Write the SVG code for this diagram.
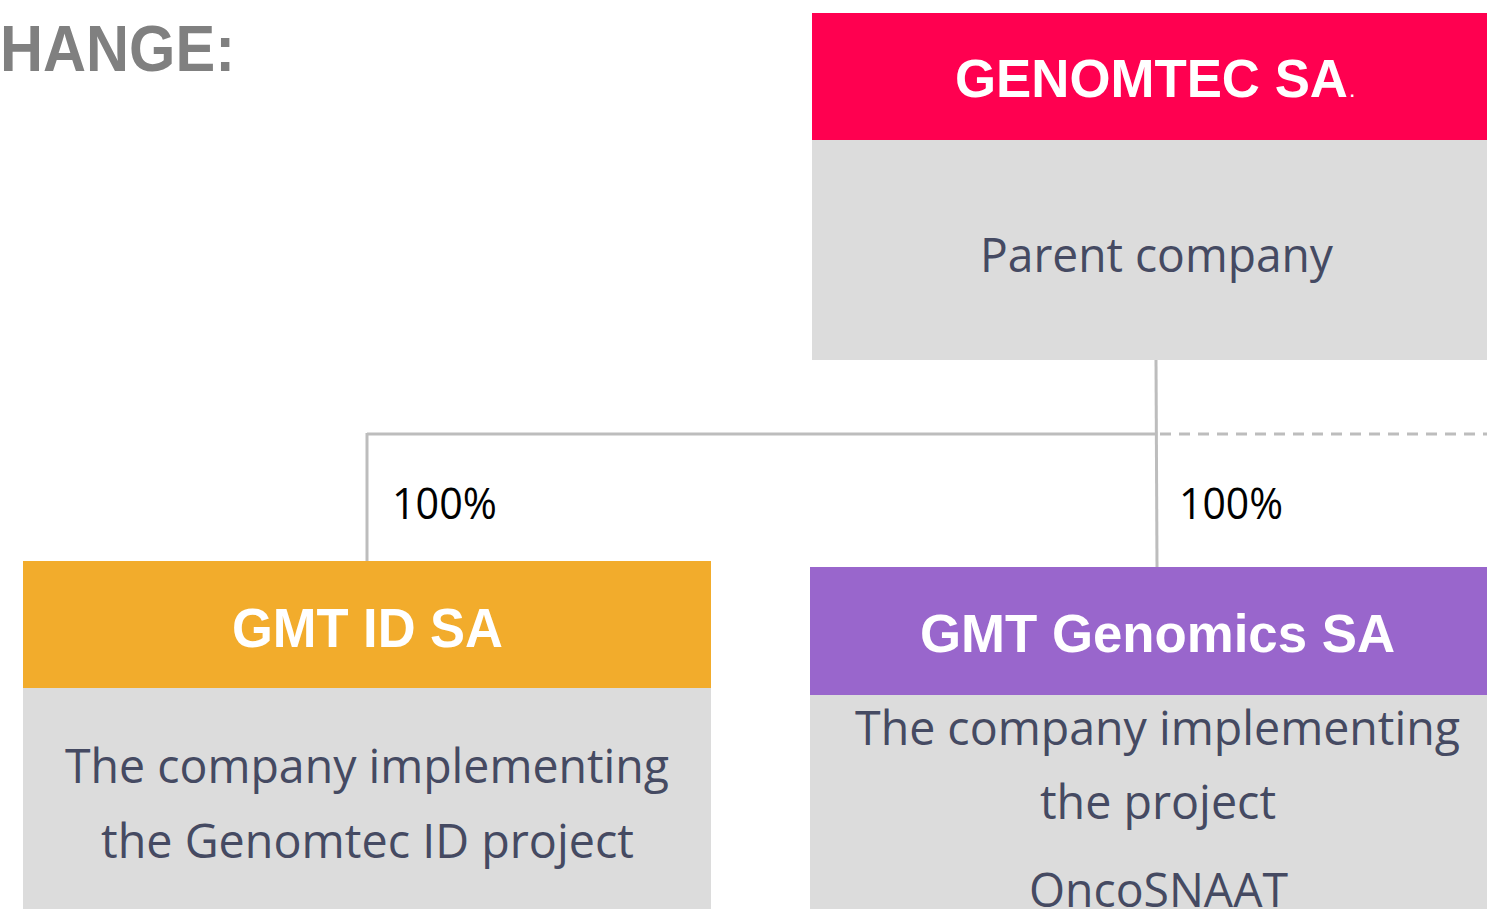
<svg xmlns="http://www.w3.org/2000/svg" width="1487" height="909" viewBox="0 0 1487 909">
  <style>
    .head { font-family: "Liberation Sans", Arial, sans-serif; font-weight: bold; fill: #ffffff; }
    .body { font-family: "Open Sans", "Noto Sans", sans-serif; fill: #454a62; font-size: 47px; }
    .pct { font-family: "Open Sans", "Noto Sans", sans-serif; fill: #000000; font-size: 44px; }
    .panel { fill: #dcdcdc; }
    .link { stroke: #bdbdbd; stroke-width: 3; fill: none; }
    .link-dashed { stroke: #bdbdbd; stroke-width: 3; fill: none; stroke-dasharray: 11 8; }
  </style>

  <rect width="1487" height="909" fill="#ffffff"/>

  <!-- page heading, running off the left edge -->
  <text x="0" y="71" font-family="Liberation Sans, Arial, sans-serif" font-weight="bold" font-size="64" fill="#808080" textLength="235" lengthAdjust="spacingAndGlyphs">HANGE:</text>

  <!-- ownership connectors -->
  <g id="connectors">
    <line class="link" x1="1156" y1="360" x2="1157" y2="567"/>
    <line class="link" x1="367" y1="434" x2="1156" y2="434"/>
    <line class="link" x1="367" y1="433" x2="367" y2="561"/>
    <line class="link-dashed" x1="1160" y1="434" x2="1487" y2="434"/>
    <text class="pct" x="392" y="519" textLength="105" lengthAdjust="spacingAndGlyphs">100%</text>
    <text class="pct" x="1179" y="519" textLength="104" lengthAdjust="spacingAndGlyphs">100%</text>
  </g>

  <!-- parent company -->
  <g id="genomtec">
    <rect x="812" y="13" width="675" height="127" fill="#ff0050"/>
    <rect class="panel" x="812" y="140" width="675" height="220"/>
    <text class="head" x="955" y="97" font-size="54" textLength="393" lengthAdjust="spacingAndGlyphs">GENOMTEC SA</text>
    <text class="head" x="1350" y="97" font-size="16">.</text>
    <text class="body" x="980" y="272" textLength="353" lengthAdjust="spacingAndGlyphs">Parent company</text>
  </g>

  <!-- subsidiary: GMT ID -->
  <g id="gmt-id">
    <rect x="23" y="561" width="688" height="127" fill="#f2ac2c"/>
    <rect class="panel" x="23" y="688" width="688" height="221"/>
    <text class="head" x="232" y="647" font-size="55" textLength="271" lengthAdjust="spacingAndGlyphs">GMT ID SA</text>
    <text class="body" x="65" y="783" textLength="604" lengthAdjust="spacingAndGlyphs">The company implementing</text>
    <text class="body" x="101" y="858" textLength="533" lengthAdjust="spacingAndGlyphs">the Genomtec ID project</text>
  </g>

  <!-- subsidiary: GMT Genomics -->
  <g id="gmt-genomics">
    <rect x="810" y="567" width="677" height="128" fill="#9966cc"/>
    <rect class="panel" x="810" y="695" width="677" height="214"/>
    <text class="head" x="920" y="652" font-size="54" textLength="475" lengthAdjust="spacingAndGlyphs">GMT Genomics SA</text>
    <text class="body" x="855" y="745" textLength="605" lengthAdjust="spacingAndGlyphs">The company implementing</text>
    <text class="body" x="1040" y="819" textLength="236" lengthAdjust="spacingAndGlyphs">the project</text>
    <text class="body" x="1029" y="907" textLength="259" lengthAdjust="spacingAndGlyphs">OncoSNAAT</text>
  </g>
</svg>
